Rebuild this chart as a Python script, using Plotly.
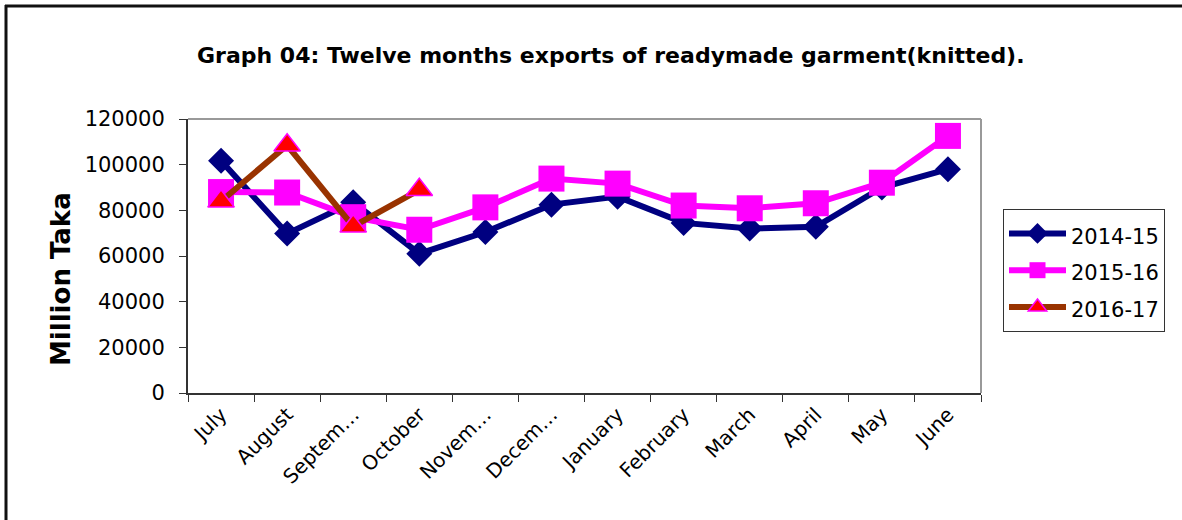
import plotly.graph_objects as go

# Monthly knit RMG exports (million Taka), fiscal year July-June
months = ["July", "August", "Septem…", "October", "Novem…", "Decem…",
          "January", "February", "March", "April", "May", "June"]
fy_2014_15 = [101700, 69800, 83500, 61000, 70500, 82500,
              86000, 74500, 72000, 72800, 90000, 98000]
fy_2015_16 = [88000, 87800, 77000, 71500, 81300, 93900,
              91700, 82100, 80900, 83100, 92100, 112600]
fy_2016_17 = [84000, 108500, 73000, 89000]
series_names = ["2014-15", "2015-16", "2016-17"]

FONT = "DejaVu Sans, Arial, sans-serif"


def legend_label(text):
    # smaller visible text inside a taller legend row
    return f"<span style='font-size:21px'>{text}</span>"


fig = go.Figure()

fig.add_trace(go.Scatter(
    x=months, y=fy_2014_15, name=legend_label(series_names[0]), mode="lines+markers",
    line=dict(color="#000080", width=6),
    marker=dict(symbol="diamond", size=20, color="#000080"),
))
fig.add_trace(go.Scatter(
    x=months, y=fy_2015_16, name=legend_label(series_names[1]), mode="lines+markers",
    line=dict(color="#FF00FF", width=6),
    marker=dict(symbol="square", size=26, color="#FF00FF"),
))
fig.add_trace(go.Scatter(
    x=months[:len(fy_2016_17)], y=fy_2016_17, name=legend_label(series_names[2]),
    mode="lines+markers",
    line=dict(color="#993300", width=6),
    marker=dict(symbol="triangle-up", size=23, color="#FF0000",
                line=dict(color="#FF00FF", width=1.5)),
))

L, R, T, B = 188, 201, 119, 127
W, H = 1182, 520
pw, ph = W - L - R, H - T - B


def px_x(x):
    return (x - L) / pw


def px_y(y):
    return (H - B - y) / ph


fig.update_layout(
    width=W, height=H, autosize=False,
    margin=dict(l=L, r=R, t=T, b=B, pad=0),
    paper_bgcolor="white", plot_bgcolor="white",
    font=dict(family=FONT, color="black"),
    showlegend=True,
    legend=dict(
        x=px_x(1003), y=px_y(209), xanchor="left", yanchor="top",
        bordercolor="#333333", borderwidth=1, bgcolor="white",
        font=dict(family=FONT, size=26, color="black"),
        itemwidth=57, tracegroupgap=0,
    ),
    xaxis=dict(
        type="category", categoryorder="array", categoryarray=months,
        range=[-0.5, len(months) - 0.5],
        showgrid=False, zeroline=False,
        showline=True, linecolor="#333333", linewidth=2,
        ticks="outside", ticklen=7, tickcolor="#333333", tickwidth=1,
        tickson="boundaries", tickangle=-45,
        tickfont=dict(family=FONT, size=20, color="black"),
    ),
    yaxis=dict(
        range=[0, 120000], dtick=20000, tick0=0,
        showgrid=False, zeroline=False,
        showline=True, linecolor="#333333", linewidth=2,
        ticks="outside", ticklen=7, tickcolor="#333333", tickwidth=1,
        tickformat="d", ticklabelstandoff=10,
        tickfont=dict(family=FONT, size=21, color="black"),
    ),
    shapes=[
        # outer chart frame: top and left edges
        dict(type="line", xref="paper", yref="paper",
             x0=px_x(5), x1=px_x(1182), y0=px_y(6), y1=px_y(6),
             line=dict(color="#111111", width=3)),
        dict(type="line", xref="paper", yref="paper",
             x0=px_x(6), x1=px_x(6), y0=px_y(5), y1=px_y(520),
             line=dict(color="#111111", width=3)),
        # top and right edges of the plot area
        dict(type="line", xref="paper", yref="paper", x0=0, x1=1, y0=1, y1=1,
             line=dict(color="#999999", width=2)),
        dict(type="line", xref="paper", yref="paper", x0=1, x1=1, y0=0, y1=1,
             line=dict(color="#999999", width=2)),
    ],
    annotations=[
        dict(text="<b>Graph 04: Twelve months exports of readymade garment(knitted).</b>",
             xref="paper", yref="paper", x=px_x(611), y=px_y(55),
             xanchor="center", yanchor="middle", showarrow=False,
             font=dict(family=FONT, size=22, color="black")),
        dict(text="<b>Million Taka</b>", textangle=-90,
             xref="paper", yref="paper", x=px_x(61), y=px_y(279),
             xanchor="center", yanchor="middle", showarrow=False,
             font=dict(family=FONT, size=26, color="black")),
    ],
)

fig.write_html("out.html")
